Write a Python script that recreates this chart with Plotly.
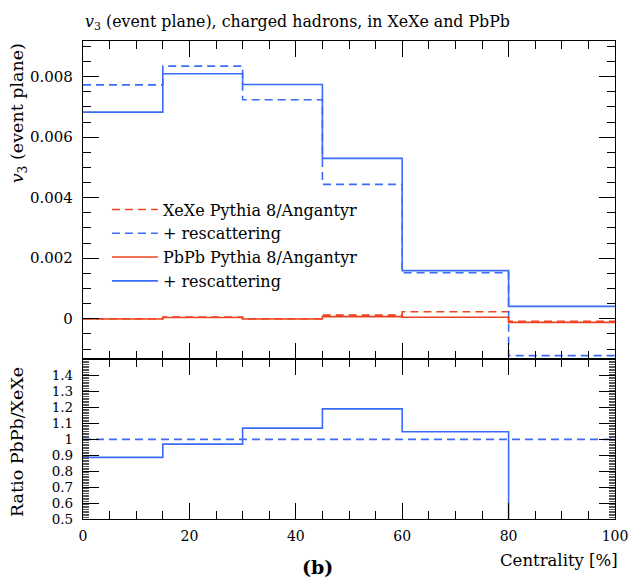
import plotly.graph_objects as go

# ---- data ----
bin_edges = [0, 15, 30, 45, 60, 80, 100]
xexe = [0.0, 0.00006, 0.0, 0.00012, 0.00023, -0.00008]
xexe_resc = [0.00773, 0.00835, 0.00724, 0.00444, 0.00152, -0.00122]
pbpb = [-0.00001, 0.00004, -0.00001, 0.00007, 0.00005, -0.00012]
pbpb_resc = [0.00683, 0.0081, 0.00774, 0.0053, 0.00159, 0.00041]
ratio_resc = [0.887, 0.970, 1.071, 1.192, 1.048, -0.34]
ratio_ref = [1.0, 1.0, 1.0, 1.0, 1.0, 1.0]

names = ["XeXe Pythia 8/Angantyr", "+ rescattering", "PbPb Pythia 8/Angantyr", "+ rescattering"]
x_ticks = [0, 20, 40, 60, 80, 100]
top_ticks = [0, 0.002, 0.004, 0.006, 0.008]
top_tick_labels = ["0", "0.002", "0.004", "0.006", "0.008"]
ratio_ticks = [0.5, 0.6, 0.7, 0.8, 0.9, 1.0, 1.1, 1.2, 1.3, 1.4]
ratio_tick_labels = ["0.5", "0.6", "0.7", "0.8", "0.9", "1", "1.1", "1.2", "1.3", "1.4"]

RED = "#EE4422"
BLUE = "#3A6CF6"
DASH = "8px,5px"
FONT = "DejaVu Serif"

def step(vals):
    return list(vals) + [vals[-1]]

fig = go.Figure()
series = [
    (xexe, RED, DASH, names[0]),
    (xexe_resc, BLUE, DASH, names[1]),
    (pbpb, RED, "solid", names[2]),
    (pbpb_resc, BLUE, "solid", names[3]),
]
for vals, col, dash, nm in series:
    fig.add_trace(go.Scatter(x=bin_edges, y=step(vals), mode="lines", line_shape="hv",
                             line=dict(color=col, dash=dash, width=1.6), name=nm,
                             xaxis="x", yaxis="y", showlegend=True))

fig.add_trace(go.Scatter(x=bin_edges, y=step(ratio_ref), mode="lines", line_shape="hv",
                         line=dict(color=BLUE, dash=DASH, width=1.6), xaxis="x2", yaxis="y2",
                         showlegend=False))
fig.add_trace(go.Scatter(x=bin_edges, y=step(ratio_resc), mode="lines", line_shape="hv",
                         line=dict(color=BLUE, width=1.6), xaxis="x2", yaxis="y2",
                         showlegend=False))

split = 160 / 478
axis_common = dict(showline=True, linecolor="black", linewidth=1.2, mirror="ticks",
                   ticks="inside", tickcolor="black", showgrid=False, zeroline=False,
                   automargin=False)

def tf(size):
    return dict(family=FONT, size=size, color="black")

fig.update_layout(
    width=629, height=582,
    margin=dict(l=83, r=14, t=41, b=63),
    paper_bgcolor="white", plot_bgcolor="white",
    font=dict(family=FONT, color="black"),
    xaxis=dict(domain=[0, 1], anchor="y", range=[0, 100], tickvals=x_ticks, showticklabels=False,
               ticklen=16, minor=dict(dtick=5, ticklen=8, ticks="inside", tickcolor="black"),
               tickfont=tf(14), **axis_common),
    yaxis=dict(domain=[split, 1], anchor="x", range=[-0.00133, 0.00918], tickvals=top_ticks,
               ticktext=top_tick_labels, ticklen=16, ticklabelstandoff=6,
               minor=dict(dtick=0.0005, ticklen=8, ticks="inside", tickcolor="black"),
               tickfont=tf(15), **axis_common),
    xaxis2=dict(domain=[0, 1], anchor="y2", range=[0, 100], tickvals=x_ticks, ticklen=16,
                ticklabelstandoff=4,
                minor=dict(dtick=5, ticklen=8, ticks="inside", tickcolor="black"),
                tickfont=tf(14), **axis_common),
    yaxis2=dict(domain=[0, split], anchor="x2", range=[0.5, 1.505], tickvals=ratio_ticks,
                ticktext=ratio_tick_labels, ticklen=16, ticklabelstandoff=6,
                minor=dict(dtick=0.01, ticklen=6, ticks="inside", tickcolor="#555"),
                tickfont=tf(13.5), **axis_common),
    legend=dict(x=0.045, y=0.683, xanchor="left", yanchor="top", bgcolor="rgba(0,0,0,0)",
                font=dict(family=FONT, size=16, color="black"), tracegroupgap=0,
                itemwidth=46),
    showlegend=True,
)

fig.add_annotation(text="<i>v</i><sub>3</sub> (event plane), charged hadrons, in XeXe and PbPb",
                   xref="paper", yref="paper", x=0, y=1.012, xanchor="left", yanchor="bottom",
                   showarrow=False, font=dict(family=FONT, size=15.8, color="black"))
fig.add_annotation(text="<i>v</i><sub>3</sub> (event plane)", textangle=-90,
                   xref="paper", yref="paper", x=-0.147, y=1.0, xanchor="left", yanchor="top",
                   showarrow=False, font=dict(family=FONT, size=17.5, color="black"))
fig.add_annotation(text="Ratio PbPb/XeXe", textangle=-90,
                   xref="paper", yref="paper", x=-0.147, y=split - 0.013, xanchor="left", yanchor="top",
                   showarrow=False, font=dict(family=FONT, size=17.5, color="black"))
fig.add_annotation(text="Centrality [%]", xref="paper", yref="paper", x=1.009, y=-0.062,
                   xanchor="right", yanchor="top", showarrow=False,
                   font=dict(family=FONT, size=16.5, color="black"))
fig.add_annotation(text="<b>(b)</b>", xref="paper", yref="paper", x=0.44, y=-0.074,
                   xanchor="center", yanchor="top", showarrow=False,
                   font=dict(family=FONT, size=19, color="black"))

fig.write_html("out.html")
